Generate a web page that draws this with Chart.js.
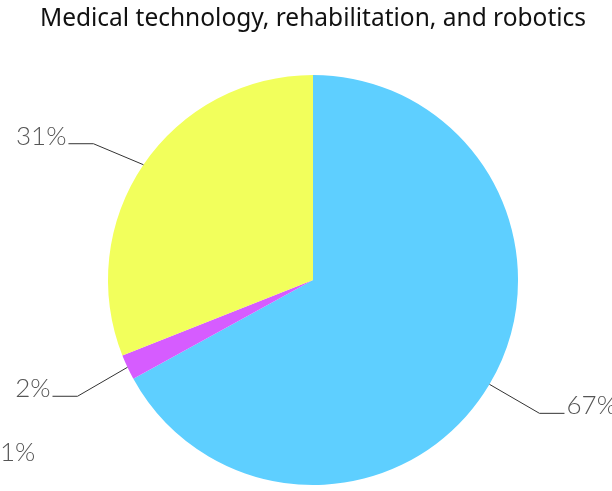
<!DOCTYPE html>
<html>
<head>
<meta charset="utf-8">
<script src="https://cdn.jsdelivr.net/npm/chart.js@4"></script>
<style>
    html, body { margin: 0; padding: 0; background: #fff; }
    #wrap { width: 612px; height: 491px; position: relative; }
</style>
</head>
<body>
<div id="wrap"><canvas id="pie-chart"></canvas></div>
<script>
// Chart data
const categories = ["A", "B", "C", "D"];
const shares = [67, 0, 2, 31];
const shareLabels = ["67%", "1%", "2%", "31%"];
const sliceColors = ["#5ecfff", "#b0b0b0", "#d65cff", "#f2ff5c"];

// Outside labels with elbow leader lines
const leaderLabels = {
    id: "leaderLabels",
    afterDatasetsDraw(chart) {
        const ctx = chart.ctx;
        const arcs = chart.getDatasetMeta(0).data;
        ctx.save();
        ctx.font = "300 26px Lato";
        ctx.textBaseline = "alphabetic";
        arcs.forEach((arc, i) => {
            const mid = (arc.startAngle + arc.endAngle) / 2;
            const dx = Math.cos(mid), dy = Math.sin(mid);
            const side = dx >= 0 ? 1 : -1;
            const ex = arc.x + dx * arc.outerRadius;
            const ey = arc.y + dy * arc.outerRadius;
            const kx = ex + side * 50;
            const ky = ey + (dy >= 0 ? 29 : -21);
            const hx = kx + side * 25;
            ctx.fillStyle = "#555";
            ctx.textAlign = side > 0 ? "left" : "right";
            if (shares[i] === 0) {
                // no visible slice: label pushed below its neighbour
                ctx.fillText(shareLabels[i], hx + side * 23, ky + 53);
                return;
            }
            ctx.strokeStyle = "#333";
            ctx.lineWidth = 1;
            ctx.beginPath();
            ctx.moveTo(ex, ey);
            ctx.lineTo(kx, ky);
            ctx.lineTo(hx, ky);
            ctx.stroke();
            ctx.fillText(shareLabels[i], hx + side * 2, ky + 1);
        });
        ctx.restore();
    }
};

const chart = new Chart(document.getElementById("pie-chart"), {
    type: "pie",
    data: {
        labels: categories,
        datasets: [{
            data: shares,
            backgroundColor: sliceColors,
            borderWidth: 0
        }]
    },
    options: {
        responsive: true,
        maintainAspectRatio: false,
        animation: false,
        layout: { padding: { top: 0, bottom: 6, left: 14, right: 0 } },
        plugins: {
            legend: { display: false },
            tooltip: { enabled: false },
            title: {
                display: true,
                text: "Medical technology, rehabilitation, and robotics",
                color: "#111",
                font: { family: "Noto Sans", size: 24.5, weight: "normal", lineHeight: 1.1 },
                padding: { top: 6, bottom: 42 }
            }
        }
    },
    plugins: [leaderLabels]
});
</script>
</body>
</html>
